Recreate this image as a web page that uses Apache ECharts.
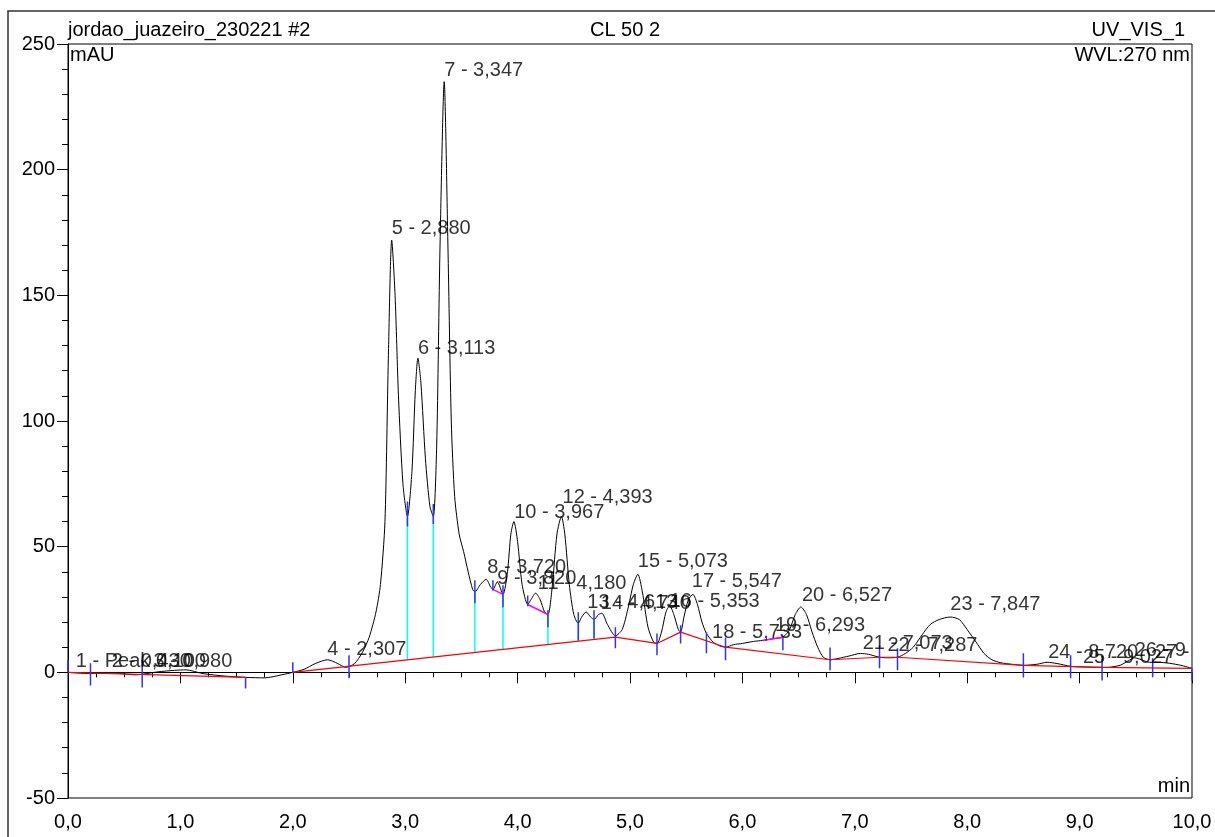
<!DOCTYPE html>
<html>
<head>
<meta charset="utf-8">
<script src="https://cdn.jsdelivr.net/npm/echarts@6/dist/echarts.min.js"></script>
<style>
  html, body { margin: 0; padding: 0; background: #fff; }
  #chart { width: 1215px; height: 837px; }
</style>
</head>
<body>
<div id="chart"></div>
<script>
// chromatogram trace (min, mAU)
var traceTime = [0.00, 0.20, 0.40, 0.60, 0.80, 0.95, 1.05, 1.20, 1.40, 1.58, 1.75, 1.90, 2.00, 2.10, 2.20, 2.31, 2.40, 2.47,
    2.55, 2.62, 2.68, 2.74, 2.78, 2.82, 2.85, 2.88, 2.91, 2.94, 2.98, 3.02, 3.06, 3.09, 3.113, 3.14, 3.18, 3.22, 3.25,
    3.28, 3.31, 3.347, 3.38, 3.41, 3.44, 3.48, 3.52, 3.56, 3.60, 3.62, 3.67, 3.72, 3.76, 3.78, 3.82, 3.87, 3.91, 3.94,
    3.967, 4.00, 4.04, 4.09, 4.12, 4.16, 4.20, 4.24, 4.27, 4.31, 4.35, 4.39, 4.42, 4.46, 4.50, 4.54, 4.57, 4.61, 4.65,
    4.68, 4.72, 4.75, 4.80, 4.87, 4.93, 4.98, 5.03, 5.07, 5.11, 5.16, 5.21, 5.24, 5.28, 5.32, 5.353, 5.39, 5.43, 5.45,
    5.48, 5.52, 5.56, 5.60, 5.64, 5.68, 5.74, 5.80, 5.85, 5.92, 6.00, 6.10, 6.18, 6.29, 6.36, 6.42, 6.47, 6.52, 6.57,
    6.62, 6.67, 6.72, 6.78, 6.85, 6.95, 7.05, 7.12, 7.22, 7.30, 7.38, 7.45, 7.52, 7.60, 7.67, 7.75, 7.85, 7.93, 8.00,
    8.08, 8.15, 8.22, 8.30, 8.40, 8.50, 8.62, 8.71, 8.80, 8.92, 9.05, 9.15, 9.25, 9.36, 9.43, 9.49, 9.55, 9.62, 9.70,
    9.80, 9.90, 10.00];
var traceAbs = [0, -0.5, -0.3, -1.0, 0.2, 0.8, 1.0, -0.5, -1.5, -2.0, -2.2, -1.0, 0, 1.2, 3.5, 5.0, 3.5, 2.0,
    3.5, 8, 14, 24, 35, 60, 125, 172, 150, 110, 75, 62, 80, 112, 125, 115, 85, 66, 62,
    90, 170, 235, 170, 100, 70, 55, 48, 40, 33, 32, 35, 37, 34, 33, 36, 31, 40, 55,
    60, 52, 35, 27, 29, 31.5, 29, 24, 23, 35, 55, 62, 55, 35, 23, 19.5, 22, 24, 22,
    21, 23, 23.5, 19, 14.5, 17, 25, 35, 39, 32, 18, 12, 11.5, 16, 24, 26.5, 23, 17, 16,
    22, 29, 31, 27, 20, 15.5, 12, 10.5, 10, 11, 11.5, 12.3, 12.7, 13.5, 14, 17, 23, 26, 23,
    16, 10, 6, 5, 5.5, 6.5, 7.5, 7.2, 6, 5.8, 6, 7.5, 10, 15, 19, 21, 22, 21, 17,
    12, 7.5, 5, 3.8, 3.2, 2.8, 3.2, 4, 3.5, 2.4, 2.1, 2, 2, 2.8, 4.5, 5.8, 5, 4, 4,
    3.6, 2.8, 1.6];

// integration baseline (red), null = gap
var baseTime = [0, 1.58, 1.8, 2.0, 4.87, 5.24, 5.45, 5.85, 6.78, 7.22, 7.38, 8.5, 9.2, 10];
var baseAbs = [0, -2, null, 0, 14, 11.5, 16, 10, 5, 6, 6, 2.8, 2.0, 1.6];

// peak delimiters (blue): time, top, bottom
var delimTime = [0, 0.2, 0.66, 1.58, 2.0, 2.5, 3.02, 3.25, 3.62, 3.78, 3.87, 4.09, 4.27, 4.54, 4.68, 4.87,
    5.24, 5.45, 5.68, 5.85, 6.36, 6.78, 7.22, 7.38, 8.5, 8.92, 9.2, 9.65, 10];
var delimTop = [4.8, 3.6, 4.8, -2, 4, 6.8, 68, 67, 36.6, 36.6, 34.6, 30.6, 24.7, 23.9, 24.7, 17.9,
    15.5, 18.7, 15.9, 13.9, 13.9, 9.9, 10.7, 9.6, 7.6, 6.8, 5.6, 5.6, 1.6];
var delimBottom = [0, -5.2, -6, -6.4, -0.4, -2.4, 58, 59, 27.5, 32.6, 25.9, 26.3, 17.9, 12.7, 13.5, 9.6,
    6.8, 11.5, 7.6, 4.8, 8.8, 0.8, 1.6, 0.8, -2, -2.4, -3.2, -2, -3.2];

// perpendicular drops (cyan): time, valley, baseline
var dropTime = [3.02, 3.25, 3.62, 3.87, 4.27, 4.54, 4.68];
var dropTop = [62, 62, 32, 31, 23, 19.5, 21];
var dropBottom = [5.0, 6.1, 7.9, 9.1, 11.1, 12.4, 13.1];

// tangent skims (magenta)
var skimTime = [[3.78, 3.87], [4.09, 4.27], [6.18, 6.36]];
var skimAbs = [[33, 31], [27, 23], [12.7, 14]];

// peak labels: text, time, level
var peakNames = ['1 - Peak 0,100', '2 - 0,430', '3 - 0,980', '4 - 2,307', '5 - 2,880', '6 - 3,113', '7 - 3,347',
    '8 - 3,720', '9 - 3,820', '10 - 3,967', '11 - 4,180', '12 - 4,393', '13 - 4,613', '14 - 4,740', '15 - 5,073',
    '16 - 5,353', '17 - 5,547', '18 - 5,733', '19 - 6,293', '20 - 6,527', '21 - 7,073', '22 - 7,287', '23 - 7,847',
    '24 - 8,720', '25 - 9,027', '26 - 9,493', '27 - 9,667'];
var peakLabelTime = [0.07, 0.39, 0.76, 2.307, 2.88, 3.113, 3.347, 3.73, 3.82, 3.97, 4.18, 4.40, 4.62, 4.74, 5.07,
    5.353, 5.55, 5.73, 6.29, 6.53, 7.07, 7.29, 7.85, 8.72, 9.03, 9.49, 9.67];
var peakLabelLevel = [4.4, 4.4, 4.4, 9.2, 176.7, 128.9, 239.6, 41.8, 37.4, 63.7, 35.4, 69.6, 27.9, 27.5, 44.2,
    28.3, 36.2, 15.9, 18.7, 30.6, 11.5, 10.7, 27.1, 8, 6, 8.8, 8];

var FONT = 'Liberation Sans, Arial, sans-serif';
var FS = 20;

var element = document.getElementById('chart');
var myChart = echarts.init(element);

function pairs(xs, ys) {
    return xs.map(function (x, i) {
        return [x, ys[i]];
    });
}

// vertical segments joined with gaps so one line series draws them all
function segments(xs, tops, bottoms) {
    var out = [];
    xs.forEach(function (x, i) {
        out.push([x, tops[i]], [x, bottoms[i]], [x, null]);
    });
    return out;
}

function commaFmt(v) {
    return v.toFixed(1).replace('.', ',');
}

function segLine(name, data, color, width, z) {
    return {
        name: name,
        type: 'line',
        data: data,
        showSymbol: false,
        connectNulls: false,
        lineStyle: { color: color, width: width },
        silent: true,
        z: z
    };
}

var skimData = [];
skimTime.forEach(function (ts, i) {
    skimData.push([ts[0], skimAbs[i][0]], [ts[1], skimAbs[i][1]], [ts[1], null]);
});

var option = {
    animation: false,
    backgroundColor: '#fff',
    grid: {
        left: 68,
        right: 23,
        top: 44,
        bottom: 39,
        show: true,
        borderColor: '#000',
        borderWidth: 1
    },
    xAxis: {
        type: 'value',
        min: 0,
        max: 10,
        interval: 1,
        axisLine: { lineStyle: { color: '#000', width: 1 } },
        axisTick: { length: 11, lineStyle: { color: '#000' } },
        minorTick: { show: true, splitNumber: 4, length: 5, lineStyle: { color: '#000' } },
        splitLine: { show: false },
        axisLabel: {
            color: '#000',
            fontFamily: FONT,
            fontSize: FS,
            margin: 14,
            formatter: commaFmt
        }
    },
    yAxis: {
        type: 'value',
        min: -50,
        max: 250,
        interval: 50,
        axisLine: { show: true, lineStyle: { color: '#000', width: 1 } },
        axisTick: { show: true, length: 11, lineStyle: { color: '#000' } },
        minorTick: { show: true, splitNumber: 5, length: 6, lineStyle: { color: '#000' } },
        splitLine: { show: false },
        axisLabel: {
            color: '#000',
            fontFamily: FONT,
            fontSize: FS,
            margin: 13
        }
    },
    graphic: [
        {
            type: 'rect',
            shape: { x: 8, y: 11, width: 1230, height: 850 },
            style: { fill: null, stroke: '#333', lineWidth: 1.5 },
            silent: true
        },
        {
            type: 'text', left: 68, top: 20,
            style: { text: 'jordao_juazeiro_230221 #2', fill: '#000', font: FS + 'px ' + FONT }
        },
        {
            type: 'text', left: 590, top: 20,
            style: { text: 'CL 50 2', fill: '#000', font: FS + 'px ' + FONT }
        },
        {
            type: 'text', right: 30, top: 20,
            style: { text: 'UV_VIS_1', fill: '#000', font: FS + 'px ' + FONT }
        },
        {
            type: 'text', left: 70, top: 45,
            style: { text: 'mAU', fill: '#000', font: FS + 'px ' + FONT }
        },
        {
            type: 'text', right: 25, top: 45,
            style: { text: 'WVL:270 nm', fill: '#000', font: FS + 'px ' + FONT }
        },
        {
            type: 'text', right: 25, top: 776,
            style: { text: 'min', fill: '#000', font: FS + 'px ' + FONT }
        }
    ],
    series: [
        {
            name: 'trace',
            type: 'line',
            data: pairs(traceTime, traceAbs),
            showSymbol: false,
            smooth: 0.25,
            lineStyle: { color: '#000', width: 1 },
            z: 2
        },
        segLine('drops', segments(dropTime, dropTop, dropBottom), '#00ffff', 1.5, 3),
        segLine('baseline', pairs(baseTime, baseAbs), '#ff0000', 1.2, 4),
        segLine('skims', skimData, '#ff00ff', 1.5, 4),
        segLine('delimiters', segments(delimTime, delimTop, delimBottom), '#3030ff', 1.5, 5),
        {
            name: 'labels',
            type: 'scatter',
            symbolSize: 0,
            data: peakNames.map(function (name, i) {
                return { value: [peakLabelTime[i], peakLabelLevel[i]], name: name };
            }),
            label: {
                show: true,
                position: 'right',
                distance: 0,
                color: '#000',
                fontFamily: FONT,
                fontSize: FS,
                formatter: function (p) {
                    return p.name;
                }
            },
            z: 6
        }
    ]
};

myChart.setOption(option);

// clip peak labels at the right edge of the plot, like the reference
var plotRight = myChart.convertToPixel({ gridIndex: 0 }, [10, 0])[0];
myChart.setOption({
    series: [{
        name: 'labels',
        data: peakNames.map(function (name, i) {
            var px = myChart.convertToPixel({ gridIndex: 0 }, [peakLabelTime[i], 0])[0];
            return {
                value: [peakLabelTime[i], peakLabelLevel[i]],
                name: name,
                label: { width: Math.max(plotRight - px, 1), overflow: 'truncate', ellipsis: '' }
            };
        })
    }]
});
</script>
</body>
</html>
